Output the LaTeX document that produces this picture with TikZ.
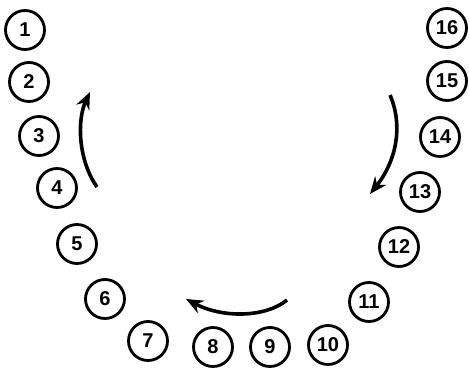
\documentclass[tikz,border=0pt]{standalone}
\usepackage{fontspec}
\setmainfont{Liberation Sans}
\usetikzlibrary{arrows.meta}
\begin{document}
\begin{tikzpicture}[x=1pt,y=-1pt,
  seat/.style={circle,draw,line width=2.8pt,minimum size=39pt,inner sep=0pt,
    font=\fontsize{20}{20}\selectfont\bfseries},
  flow/.style={line width=3.6pt,-{Stealth[length=17pt,width=14pt]}}]
\useasboundingbox (0,0) rectangle (469,370);
\node[seat] (n1) at (25,30) {1};
\node[seat] (n2) at (29,82) {2};
\node[seat] (n3) at (39,136) {3};
\node[seat] (n4) at (57,188) {4};
\node[seat] (n5) at (77,244) {5};
\node[seat] (n6) at (105,299) {6};
\node[seat] (n7) at (148,341) {7};
\node[seat] (n8) at (213,347) {8};
\node[seat] (n9) at (270,347) {9};
\node[seat] (n10) at (328,345) {10};
\node[seat] (n11) at (369,302) {11};
\node[seat] (n12) at (399,247) {12};
\node[seat] (n13) at (420,192) {13};
\node[seat] (n14) at (440,137) {14};
\node[seat] (n15) at (447,81) {15};
\node[seat] (n16) at (447,28) {16};
\coordinate (l1) at (97,187);
\coordinate (l2) at (90,92);
\coordinate (r1) at (390,95);
\coordinate (r2) at (370,194);
\coordinate (b1) at (287,300);
\coordinate (b2) at (186,299);
\draw[flow] (l1) .. controls (78,160) and (77,120) .. (l2);
\draw[flow] (r1) .. controls (403,125) and (397,160) .. (r2);
\draw[flow] (b1) .. controls (265,318) and (222,318) .. (b2);
\end{tikzpicture}
\end{document}
